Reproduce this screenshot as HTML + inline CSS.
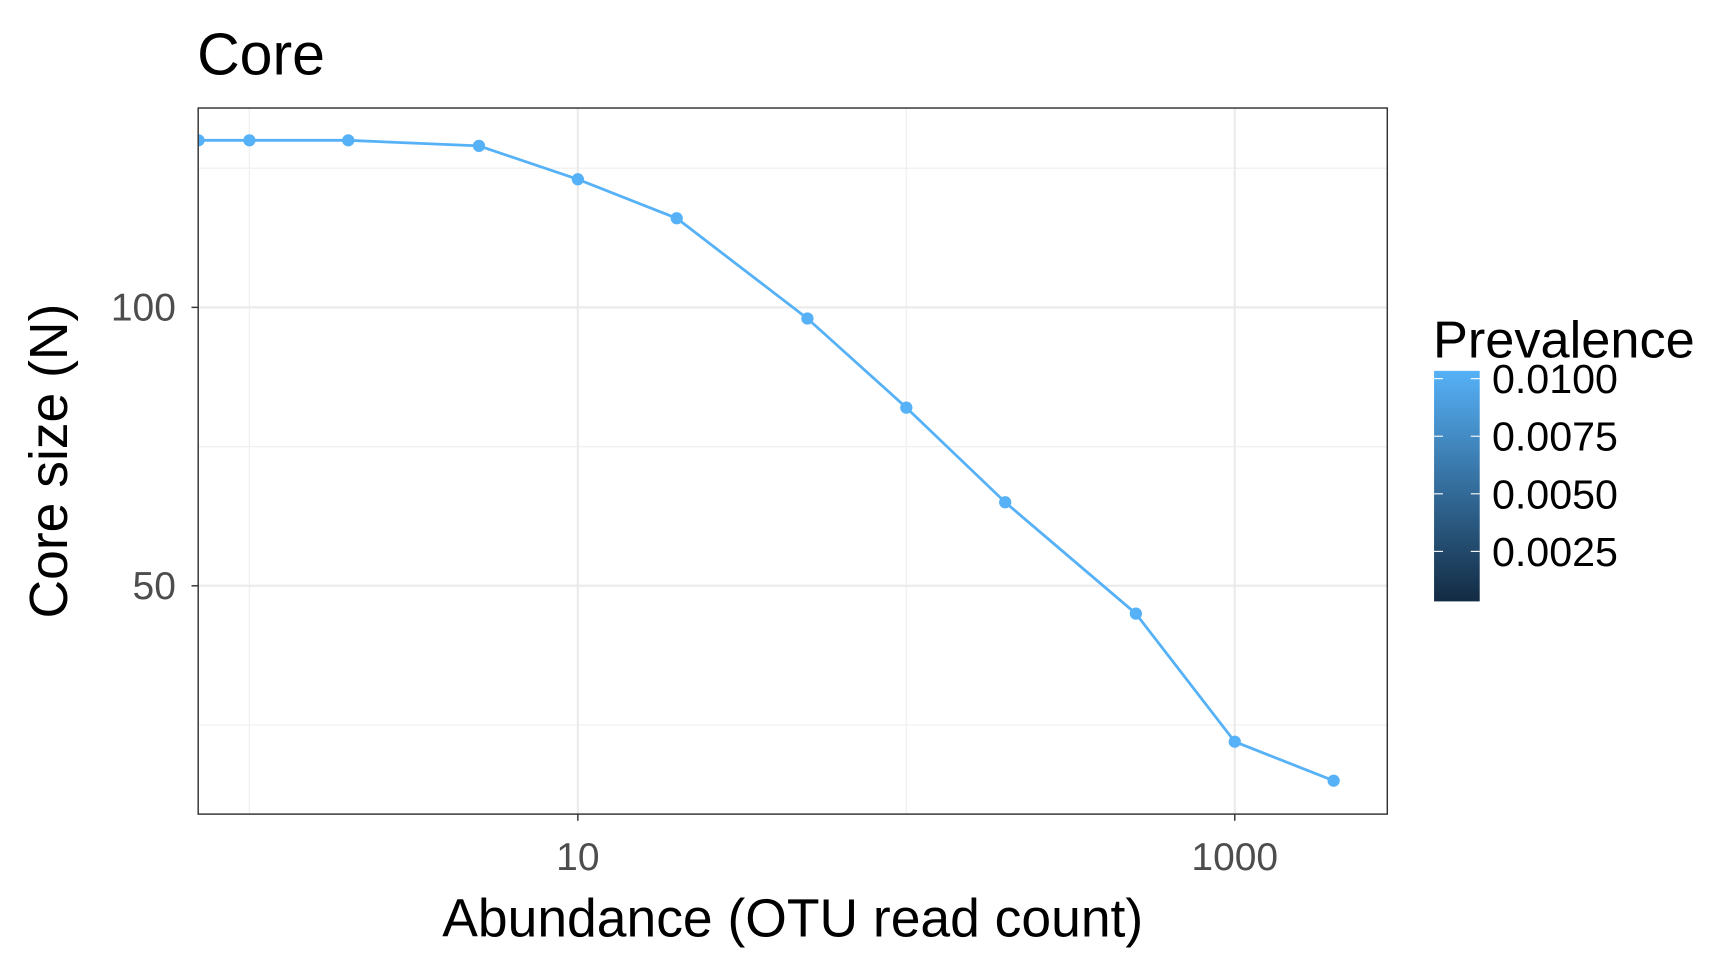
<!DOCTYPE html>
<html><head><meta charset="utf-8"><style>html,body{margin:0;padding:0;background:#fff}svg{display:block}text{font-family:"Liberation Sans",sans-serif}</style></head>
<body>
<svg width="1728" height="960" viewBox="0 0 1552 862" preserveAspectRatio="none">
<defs><linearGradient id="g" x1="0" y1="1" x2="0" y2="0"><stop offset="0" stop-color="#132B43"/><stop offset="1" stop-color="#56B1F7"/></linearGradient>
<clipPath id="cp"><rect x="178" y="97" width="1068" height="634"/></clipPath></defs>
<text x="177" y="67" font-size="53">Core</text>
<rect x="178" y="97" width="1068" height="634" fill="#fff"/>
<g id="grid"></g>
<g id="series" clip-path="url(#cp)"></g>
<rect x="178" y="97" width="1068" height="634" fill="none" stroke="#333" stroke-width="1.3"/>
<g id="axes"></g>
<text x="712" y="841" font-size="48" text-anchor="middle">Abundance (OTU read count)</text>
<text transform="translate(60,414) rotate(-90)" font-size="48" text-anchor="middle">Core size (N)</text>
<text x="1287" y="321" font-size="47">Prevalence</text>
<rect x="1288" y="333" width="41" height="207" fill="url(#g)"/>
<g id="legend"></g>
</svg>
<script>
const abundance=[0.7,1,2,5,10,20,50,100,200,500,1000,2000];
const coreSize=[130,130,130,129,123,116,98,82,65,45,22,15];
const yMajor=[50,100];
const yMinor=[25,75,125];
const xMajor=[10,1000];
const xMinor=[1,100];
const xMajorLabels=["10","1000"];
const legendValues=[0.01,0.0075,0.005,0.0025];
const legendLabels=["0.0100","0.0075","0.0050","0.0025"];
const NS="http://www.w3.org/2000/svg";
const X=v=>519+295*(Math.log10(v)-1);
const Y=v=>276-5*(v-100);
const L=v=>340+(0.01-v)/0.0025*51.7;
function mk(t,a,p){const e=document.createElementNS(NS,t);for(const k in a)e.setAttribute(k,a[k]);p.appendChild(e);return e;}
const grid=document.getElementById('grid'),axes=document.getElementById('axes'),series=document.getElementById('series'),leg=document.getElementById('legend');
yMinor.forEach(v=>{const e=mk('line',{x1:178,x2:1246,y1:Y(v),y2:Y(v),stroke:'#f0f0f0','stroke-width':1.2},grid);

});
xMinor.forEach(v=>{const e=mk('line',{x1:X(v),x2:X(v),y1:97,y2:731,stroke:'#f0f0f0','stroke-width':1.2},grid);

});
yMajor.forEach(v=>{const e=mk('line',{x1:178,x2:1246,y1:Y(v),y2:Y(v),stroke:'#ebebeb','stroke-width':2},grid);


mk('line',{x1:172,x2:178,y1:Y(v),y2:Y(v),stroke:'#333','stroke-width':1.3},axes);
const t=mk('text',{x:158,y:Y(v)+12,'font-size':35,fill:'#4d4d4d','text-anchor':'end'},axes);t.textContent=v;

});
xMajor.forEach((v,i)=>{const e=mk('line',{x1:X(v),x2:X(v),y1:97,y2:731,stroke:'#ebebeb','stroke-width':2},grid);


mk('line',{x1:X(v),x2:X(v),y1:731,y2:737,stroke:'#333','stroke-width':1.3},axes);
const t=mk('text',{x:X(v),y:781,'font-size':35,fill:'#4d4d4d','text-anchor':'middle'},axes);t.textContent=xMajorLabels[i];

});
const pl=mk('polyline',{points:abundance.map((a,i)=>X(a)+','+Y(coreSize[i])).join(' '),fill:'none',stroke:'#56B1F7','stroke-width':2.5},series);


abundance.forEach((a,i)=>{const c=mk('circle',{cx:X(a),cy:Y(coreSize[i]),r:5.5,fill:'#56B1F7'},series);

});
legendValues.forEach((v,i)=>{mk('line',{x1:1288,x2:1296,y1:L(v),y2:L(v),stroke:'#fff','stroke-width':1},leg);
mk('line',{x1:1321,x2:1329,y1:L(v),y2:L(v),stroke:'#fff','stroke-width':1},leg);
const t=mk('text',{x:1340,y:L(v)+13,'font-size':37},leg);t.textContent=legendLabels[i];

});
</script>
</body></html>
